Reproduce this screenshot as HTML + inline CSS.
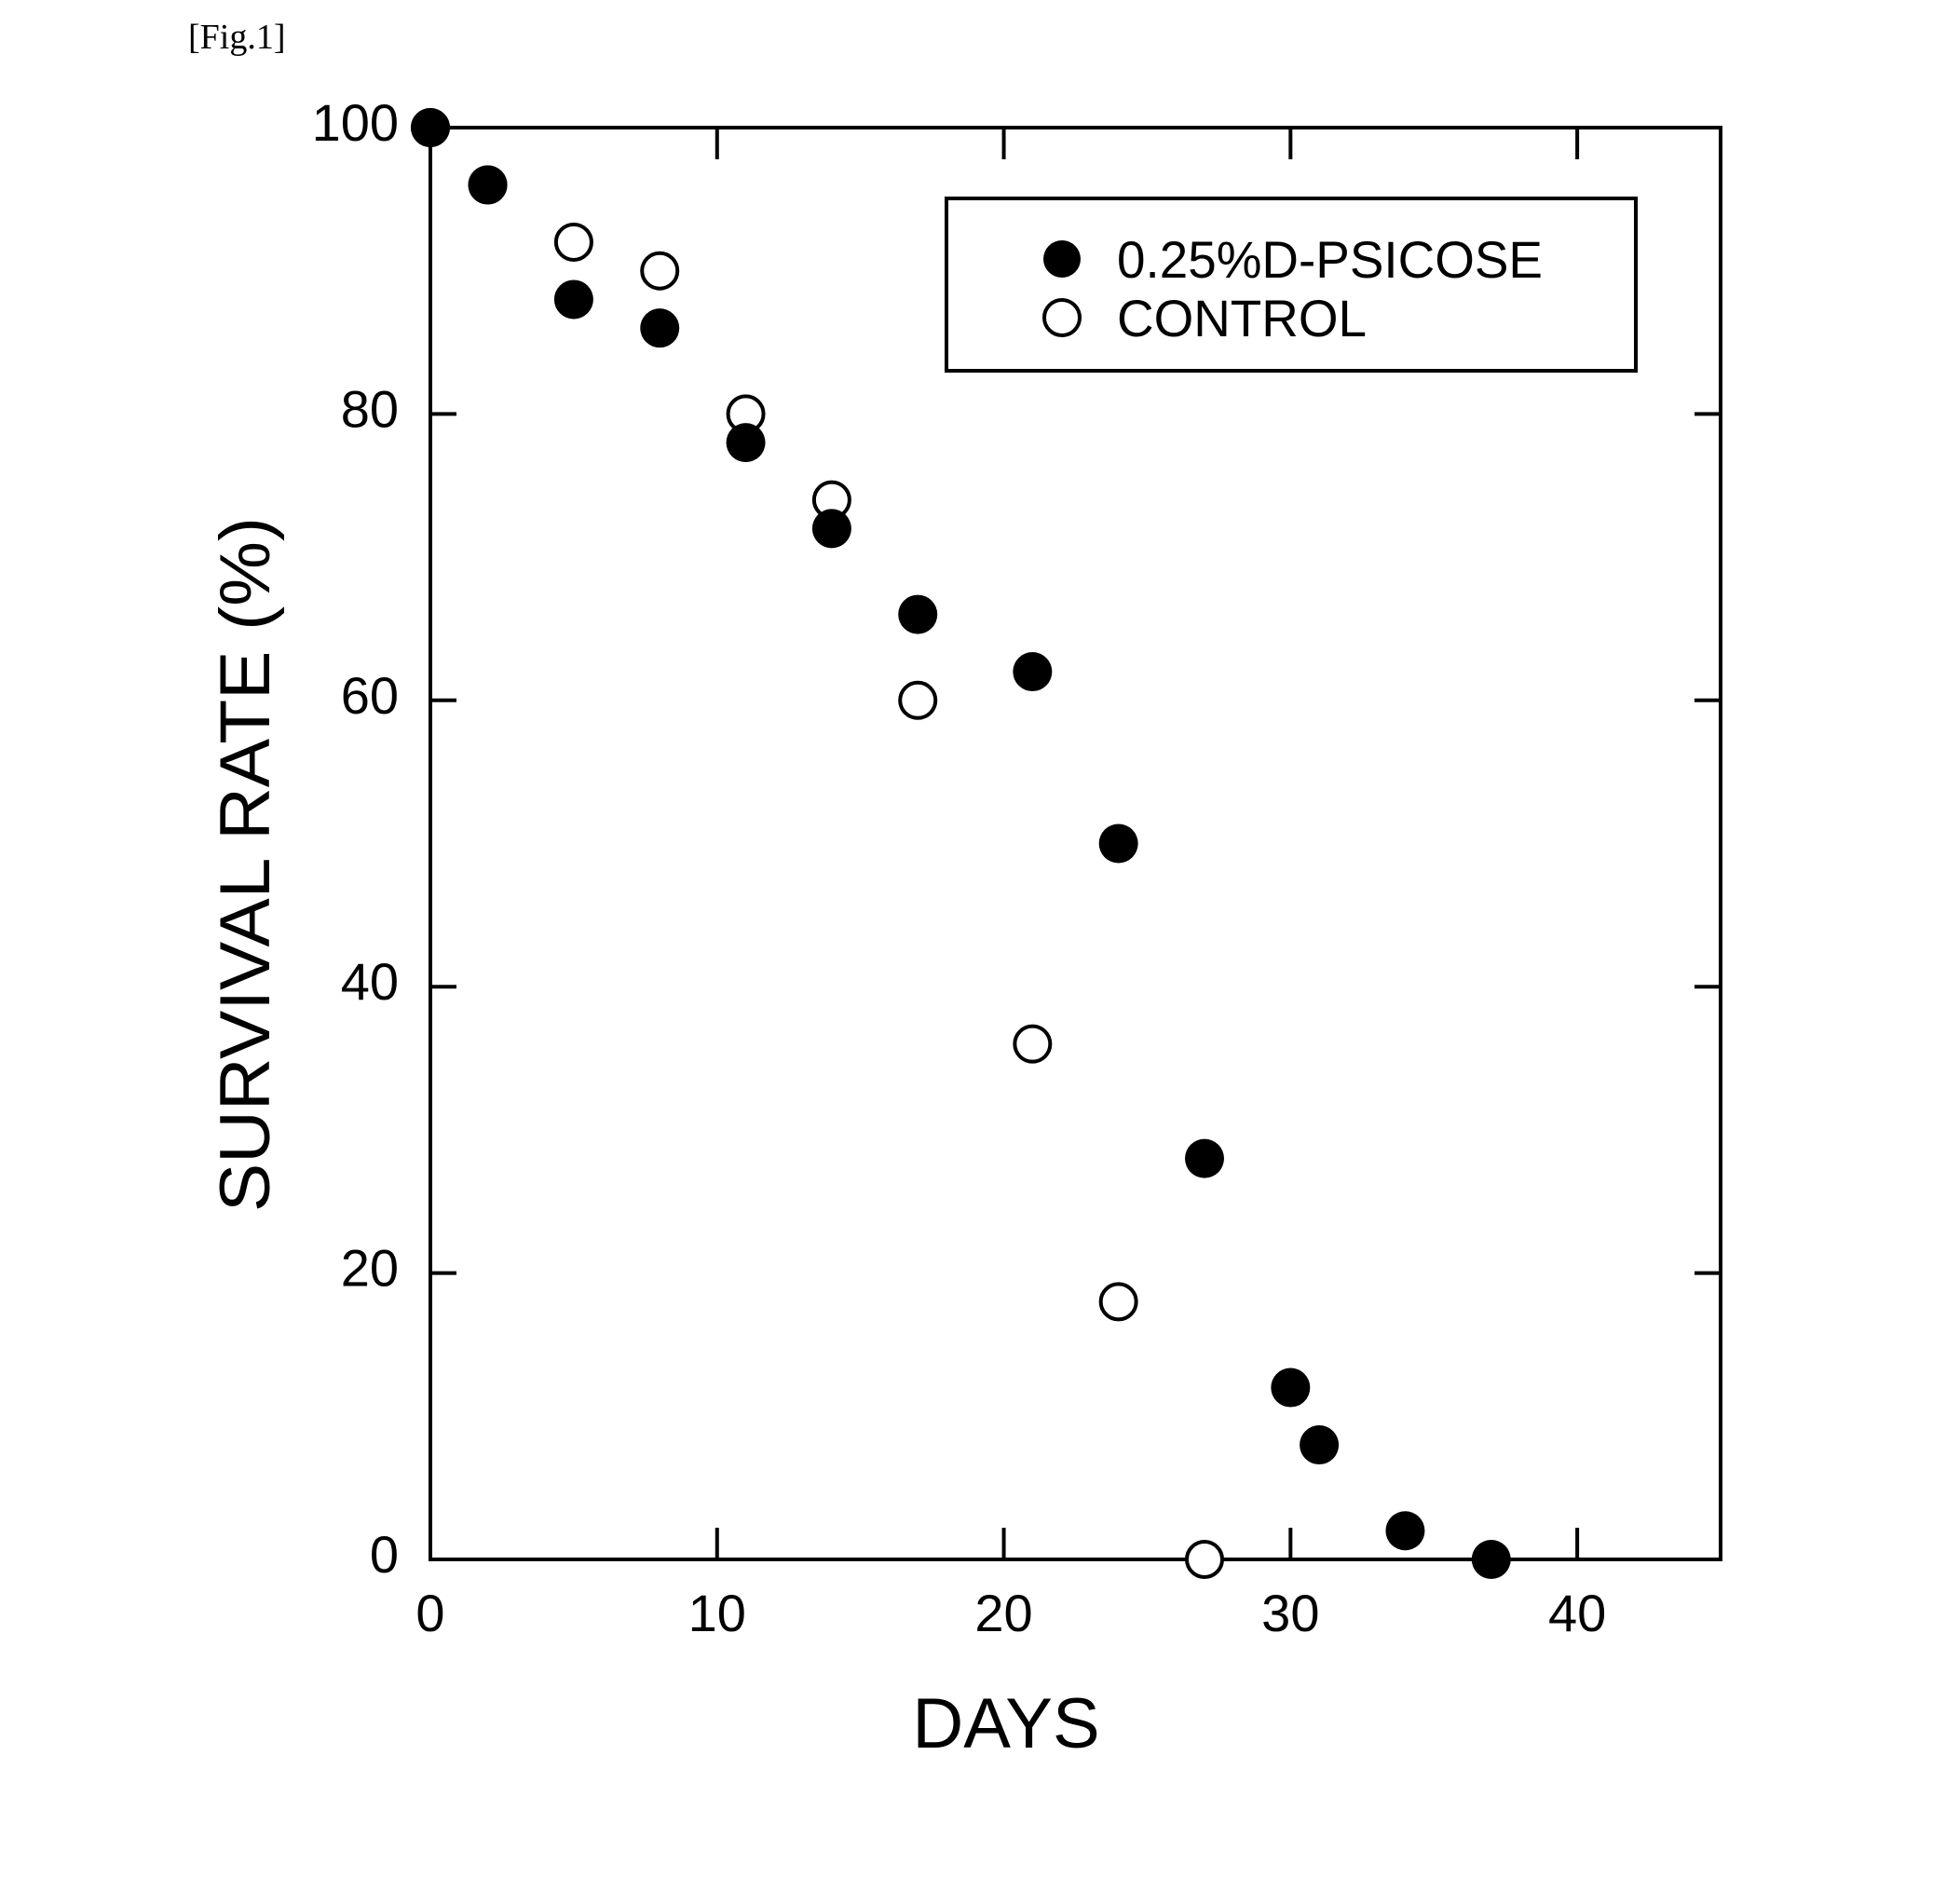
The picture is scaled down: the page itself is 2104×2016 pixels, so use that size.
<!DOCTYPE html>
<html><head><meta charset="utf-8"><style>
html,body{margin:0;padding:0;background:#fff;}
svg{display:block;}
</style></head><body>
<svg id="chart" width="2104" height="2016" viewBox="0 0 2104 2016" xmlns="http://www.w3.org/2000/svg">
<text x="202" y="52" font-family="Liberation Serif, serif" font-size="38" fill="#000">[Fig.1]</text>
<g id="plot"></g>
</svg>
<script>
const psicoseDays = [0, 2, 5, 8, 11, 14, 17, 21, 24, 27, 30, 31, 34, 37];
const psicoseRate = [100, 96, 88, 86, 78, 72, 66, 62, 50, 28, 12, 8, 2, 0];
const controlDays = [0, 2, 5, 8, 11, 14, 17, 21, 24, 27];
const controlRate = [100, 96, 92, 90, 80, 74, 60, 36, 18, 0];
const xTicks = [0, 10, 20, 30, 40];
const yTicks = [0, 20, 40, 60, 80, 100];

const NS = 'http://www.w3.org/2000/svg';
const L = 462, R = 1847, T = 137, B = 1674;
const xMin = 0, xMax = 45, yMin = 0, yMax = 100;
function sx(v){ return L + (v - xMin) / (xMax - xMin) * (R - L); }
function sy(v){ return B - (v - yMin) / (yMax - yMin) * (B - T); }
const g = document.getElementById('plot');
function mk(tag, attrs){ const e = document.createElementNS(NS, tag); for (const k in attrs) e.setAttribute(k, attrs[k]); g.appendChild(e); return e; }

// frame
const frame = mk('rect', {x: L, y: T, width: R - L, height: B - T, fill: 'none', stroke: '#000', 'stroke-width': 4});



// x ticks
xTicks.forEach(v => {
  const x = sx(v);
  if (v !== 0) {
    const t1 = mk('line', {x1: x, y1: B, x2: x, y2: B - 34, stroke: '#000', 'stroke-width': 4});
    
    
    const t2 = mk('line', {x1: x, y1: T, x2: x, y2: T + 34, stroke: '#000', 'stroke-width': 4});
    
    
  }
  const lb = mk('text', {x: x, y: B + 77, 'text-anchor': 'middle', 'font-family': 'Liberation Sans, sans-serif', 'font-size': 56, fill: '#000'});
  lb.textContent = v;
  
  
});
// y ticks
yTicks.forEach(v => {
  const y = sy(v);
  if (v !== 0 && v !== 100) {
    const t1 = mk('line', {x1: L, y1: y, x2: L + 28, y2: y, stroke: '#000', 'stroke-width': 4});
    
    
    const t2 = mk('line', {x1: R, y1: y, x2: R - 28, y2: y, stroke: '#000', 'stroke-width': 4});
    
    
  }
  const lb = mk('text', {x: 428, y: y + 14, 'text-anchor': 'end', 'font-family': 'Liberation Sans, sans-serif', 'font-size': 56, fill: '#000'});
  lb.textContent = v;
  
  
});

// axis titles
const xt = mk('text', {x: 1080, y: 1876, 'text-anchor': 'middle', 'font-family': 'Liberation Sans, sans-serif', 'font-size': 76, fill: '#000'});
xt.textContent = 'DAYS';


const yt = mk('text', {x: 0, y: 0, 'text-anchor': 'middle', 'font-family': 'Liberation Sans, sans-serif', 'font-size': 76, fill: '#000', transform: 'translate(289,928) rotate(-90)', textLength: 746, lengthAdjust: 'spacingAndGlyphs'});
yt.textContent = 'SURVIVAL RATE (%)';



// control series (open)
controlDays.forEach((d, i) => {
  const c = mk('circle', {cx: sx(d), cy: sy(controlRate[i]), r: 19, fill: '#fff', stroke: '#000', 'stroke-width': 4});
  
  
});
// psicose series (filled)
psicoseDays.forEach((d, i) => {
  const c = mk('circle', {cx: sx(d), cy: sy(psicoseRate[i]), r: 21, fill: '#000'});
  
  
});

// legend
const lg = mk('rect', {x: 1016, y: 213, width: 740, height: 185, fill: '#fff', stroke: '#000', 'stroke-width': 4});


const m1 = mk('circle', {cx: 1140, cy: 278, r: 20, fill: '#000'});


const l1 = mk('text', {x: 1199, y: 298, 'font-family': 'Liberation Sans, sans-serif', 'font-size': 56, fill: '#000', textLength: 457, lengthAdjust: 'spacingAndGlyphs'});
l1.textContent = '0.25%D-PSICOSE';


const m2 = mk('circle', {cx: 1140, cy: 341, r: 19, fill: '#fff', stroke: '#000', 'stroke-width': 4});


const l2 = mk('text', {x: 1199, y: 361, 'font-family': 'Liberation Sans, sans-serif', 'font-size': 56, fill: '#000', textLength: 268, lengthAdjust: 'spacingAndGlyphs'});
l2.textContent = 'CONTROL';


</script>
</body></html>
